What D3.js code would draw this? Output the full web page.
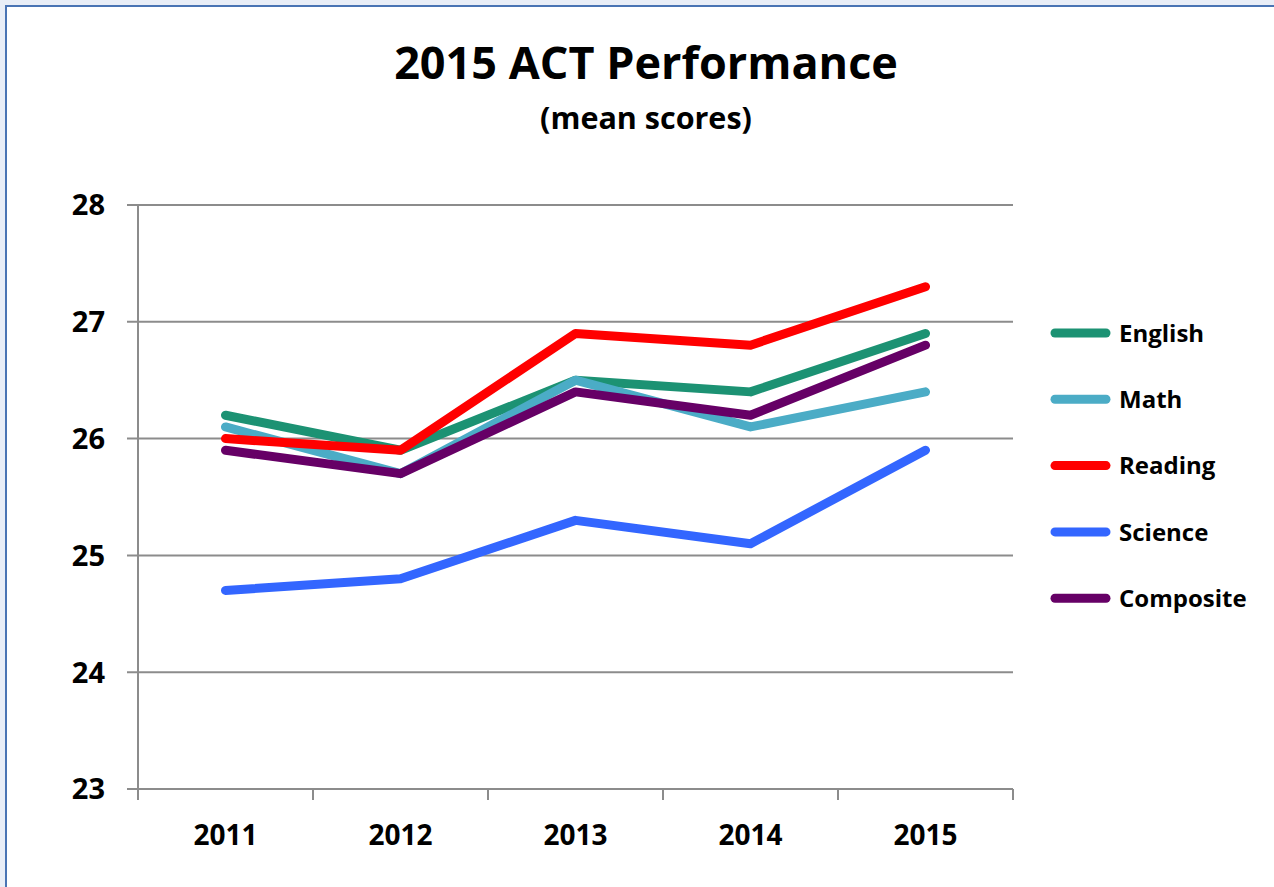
<!DOCTYPE html>
<html>
<head>
<meta charset="utf-8">
<script src="https://cdn.jsdelivr.net/npm/d3@7"></script>
<style>
html,body{margin:0;padding:0;background:#e9eef7;overflow:hidden;}
text{font-family:"Open Sans","Noto Sans",sans-serif;font-weight:700;fill:#000;}
</style>
</head>
<body>
<svg id="chart" width="1274" height="887"></svg>
<script>
const years = ["2011","2012","2013","2014","2015"];
const seriesNames = ["English","Math","Reading","Science","Composite"];
const english   = [26.2, 25.9, 26.5, 26.4, 26.9];
const math      = [26.1, 25.7, 26.5, 26.1, 26.4];
const reading   = [26.0, 25.9, 26.9, 26.8, 27.3];
const science   = [24.7, 24.8, 25.3, 25.1, 25.9];
const composite = [25.9, 25.7, 26.4, 26.2, 26.8];
const yTicks = [23, 24, 25, 26, 27, 28];
const colors = ["#1c9273", "#4bacc6", "#ff0000", "#3366ff", "#660066"];
const title = "2015 ACT Performance";
const subtitle = "(mean scores)";

const series = [english, math, reading, science, composite].map((v, i) => ({name: seriesNames[i], values: v, color: colors[i]}));

const svg = d3.select("#chart");
svg.append("rect").attr("x", 6).attr("y", 6).attr("width", 1290).attr("height", 900)
  .attr("fill", "#fff").attr("stroke", "#4a74b4").attr("stroke-width", 2);

const x = d3.scaleBand().domain(years).range([138, 1013]);
const y = d3.scaleLinear().domain([23, 28]).range([789, 205]);

// gridlines
svg.append("g").selectAll("line").data(yTicks).join("line")
  .attr("x1", 127).attr("x2", 1013)
  .attr("y1", d => y(d)).attr("y2", d => y(d))
  .attr("stroke", "#8c8c8c").attr("stroke-width", 2);

// y axis line
svg.append("line").attr("x1", 138).attr("x2", 138).attr("y1", y(28)).attr("y2", y(23))
  .attr("stroke", "#8c8c8c").attr("stroke-width", 2);

// x ticks at band boundaries
const bounds = years.map(d => x(d)).concat([x.range()[1]]);
svg.append("g").selectAll("line").data(bounds).join("line")
  .attr("x1", d => d).attr("x2", d => d).attr("y1", y(23)).attr("y2", y(23) + 11)
  .attr("stroke", "#8c8c8c").attr("stroke-width", 2);

// y labels
svg.append("g").selectAll("text").data(yTicks).join("text")
  .attr("x", 105).attr("y", d => y(d)).attr("dy", "0.36em")
  .attr("text-anchor", "end").attr("font-size", 29).text(d => d);

// x labels
svg.append("g").selectAll("text").data(years).join("text")
  .attr("x", d => x(d) + x.bandwidth() / 2).attr("y", 845)
  .attr("text-anchor", "middle").attr("font-size", 28).text(d => d);

// lines
const line = d3.line().x((d, i) => x(years[i]) + x.bandwidth() / 2).y(d => y(d));
svg.append("g").selectAll("path").data(series).join("path")
  .attr("d", d => line(d.values))
  .attr("fill", "none").attr("stroke", d => d.color).attr("stroke-width", 9)
  .attr("stroke-linecap", "round").attr("stroke-linejoin", "round");

// legend
const lg = svg.append("g").selectAll("g").data(series).join("g")
  .attr("transform", (d, i) => `translate(0,${333 + i * 66.3})`);
lg.append("line").attr("x1", 1055).attr("x2", 1106).attr("y1", 0).attr("y2", 0)
  .attr("stroke", d => d.color).attr("stroke-width", 9).attr("stroke-linecap", "round");
lg.append("text").attr("x", 1119).attr("y", 0).attr("dy", "0.36em")
  .attr("font-size", 24).text(d => d.name);

// titles
svg.append("text").attr("x", 646).attr("y", 79).attr("text-anchor", "middle")
  .attr("font-size", 45).text(title);
svg.append("text").attr("x", 646).attr("y", 129).attr("text-anchor", "middle")
  .attr("font-size", 30.5).text(subtitle);
</script>
</body>
</html>
